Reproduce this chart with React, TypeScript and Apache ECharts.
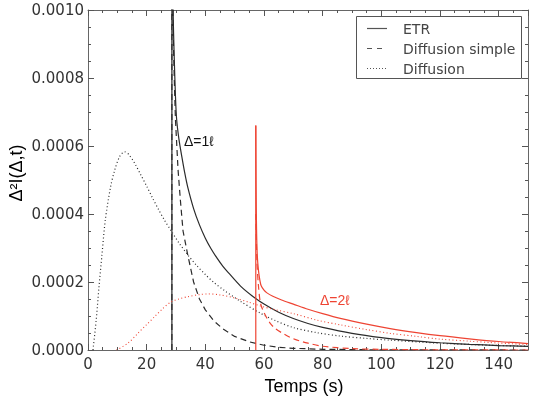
import React, { useEffect, useRef } from 'react';
import * as echarts from 'echarts';

type P = [number, number];

// Δ = 1ℓ (black)
const jump1: P[] = [[28.6, 0], [28.6, 0.0015]];
const etr1: P[] = [
  [28.65, 0.0015], [28.8, 0.0012], [29.0, 0.001], [29.4, 0.00086], [29.8, 0.00075], [30.2, 0.00068],
  [31.0, 0.00062], [32.0, 0.000568], [33.0, 0.00052], [34.0, 0.000479], [36.0, 0.000416], [38.0, 0.000368],
  [40.0, 0.000329], [42.0, 0.000297], [44.0, 0.00027], [46.0, 0.000246], [48.0, 0.000226], [52.0, 0.000188],
  [56.0, 0.000159], [60.0, 0.000135], [65.0, 0.000111], [70.0, 0.0000925], [75.0, 0.000078],
  [80.0, 0.0000664], [90.0, 0.0000487], [100.0, 0.0000364], [110.0, 0.0000278], [120.0, 0.0000214],
  [130.0, 0.0000167], [140.0, 0.0000131], [150.0, 0.0000104],
];
const simple1: P[] = [
  [28.6, 0], [28.6, 0.0015], [28.75, 0.0012], [29.0, 0.00095], [29.4, 0.0008], [29.8, 0.00068], [30.7, 0.00053],
  [31.5, 0.00044], [32.4, 0.00035], [34.0, 0.00028], [36.0, 0.0002], [38.0, 0.00015], [40.0, 0.000118],
  [43.0, 0.000085], [46.0, 0.000062], [50.0, 0.00004], [55.0, 0.000024], [60.0, 0.000014], [65.0, 0.000008],
  [70.0, 0.000005], [80.0, 0.000002], [100.0, 0.0000005], [150.0, 0],
];
const diff1: P[] = [
  [1.7, 0], [2.8, 0.000088], [3.75, 0.000186], [4.8, 0.000284], [5.9, 0.000382], [7.7, 0.00048],
  [9.1, 0.000529], [10.8, 0.000569], [12.5, 0.000583], [14.0, 0.000574], [16.0, 0.000548], [18.0, 0.000515],
  [20.0, 0.000482], [22.0, 0.000447], [24.0, 0.000414], [26.0, 0.000383], [28.4, 0.00035], [31.0, 0.000315],
  [34.0, 0.00028], [37.0, 0.000249], [40.0, 0.000222], [43.0, 0.000198], [46.5, 0.000175], [52.0, 0.000143],
  [58.6, 0.000109], [64.0, 0.000086], [70.0, 0.000066], [78.0, 0.000051], [86.0, 0.000041], [95.0, 0.000034],
  [103.0, 0.000029], [120.0, 0.00002], [137.0, 0.000014], [150.0, 0.000011],
];

// Δ = 2ℓ (red)
const jump2: P[] = [[57.2, 0], [57.2, 0.00066]];
const etr2: P[] = [
  [57.2, 0.00066], [57.3, 0.00048], [57.45, 0.00036], [57.7, 0.00028], [58.1, 0.000235], [58.6, 0.000205],
  [59.0, 0.00019], [60.0, 0.000176], [61.0, 0.000168], [63.0, 0.000158], [66.0, 0.000147], [70.0, 0.000135],
  [75.0, 0.00012], [80.0, 0.000107], [86.0, 0.000093], [95.0, 0.000076], [103.0, 0.000063], [112.0, 0.000051],
  [120.0, 0.000042], [130.0, 0.000033], [140.0, 0.000025], [150.0, 0.000019],
];
const simple2: P[] = [
  [57.2, 0.0004], [57.6, 0.00026], [58.1, 0.00019], [58.8, 0.000138], [60.0, 0.00011], [62.0, 0.00008],
  [64.0, 0.000062], [66.6, 0.000048], [69.0, 0.000037], [72.0, 0.000027], [75.0, 0.00002], [80.0, 0.000011],
  [90.0, 0.000004], [100.0, 0.000002], [120.0, 0.0000005], [150.0, 0],
];
const diff2: P[] = [
  [9.7, 0], [13.6, 0.00002], [17.0, 0.000049], [19.9, 0.000074], [22.7, 0.000098], [25.5, 0.000122],
  [28.4, 0.000142], [31.0, 0.00015], [34.1, 0.000157], [38.0, 0.000163], [41.0, 0.000165], [45.0, 0.000162],
  [50.0, 0.000153], [55.0, 0.00014], [58.6, 0.00013], [64.0, 0.000118], [70.0, 0.000107], [78.0, 0.000088],
  [86.0, 0.000074], [95.0, 0.00006], [103.0, 0.000049], [112.0, 0.00004], [120.0, 0.000032],
  [130.0, 0.000026], [137.0, 0.000022], [150.0, 0.000016],
];

const legendNames = ['ETR', 'Diffusion simple', 'Diffusion'];
const xTitle = 'Temps (s)';
const yTitle = 'Δ²I(Δ,t)';
const label1 = 'Δ=1ℓ';
const label2 = 'Δ=2ℓ';

const BLACK = '#2b2b2b';
const RED = '#ee4433';
const DASH = [6, 4];
const DOT = [1, 2.5];

export default function App() {
  const ref = useRef<HTMLDivElement>(null);
  useEffect(() => {
    const chart = echarts.init(ref.current!, null, { renderer: 'svg' });
    const axisLine = { show: true, onZero: false, lineStyle: { color: '#666', width: 1 } };
    const labelFont = { fontFamily: 'DejaVu Sans', fontSize: 15, color: '#333' };
    const majorTick = { show: true, inside: true, length: 6, lineStyle: { color: '#555' } };
    const minorTickS = { show: true, inside: true, length: 3, lineStyle: { color: '#555' } };
    const xBase = { type: 'value', min: 0, max: 150, splitLine: { show: false } };
    const yBase = { type: 'value', min: 0, max: 0.001, splitLine: { show: false } };
    const line = (data: P[], color: string, type: any, width = 1.2, smooth: any = 0.3) => ({
      type: 'line', data, showSymbol: false, symbol: 'none', smooth, color,
      lineStyle: { color, width, type }, silent: true, z: 3,
    });
    const legendStyles: any[] = [null, [5, 5], [1, 2]];
    const legendItems: any[] = [];
    legendNames.forEach((name, i) => {
      const y = 28.5 + i * 20;
      legendItems.push({
        type: 'line', z: 11, shape: { x1: 367, y1: y, x2: 387, y2: y },
        style: { stroke: '#555', lineWidth: 1.2, lineDash: legendStyles[i] },
      });
      legendItems.push({
        type: 'text', z: 11, x: 403, y,
        style: { text: name, textAlign: 'left', textVerticalAlign: 'middle', font: '14px "DejaVu Sans"', fill: '#444' },
      });
    });
    const option: any = {
      animation: false,
      grid: [
        { left: 88, right: 10, top: 10, bottom: 52 },
        { left: 88, right: 10, top: 10, bottom: 52 },
      ],
      xAxis: [
        { ...xBase, gridIndex: 0, position: 'bottom', interval: 20, axisLine, axisTick: majorTick,
          axisLabel: { ...labelFont, margin: 6, showMaxLabel: false } },
        { ...xBase, gridIndex: 0, position: 'top', interval: 20, axisLine, axisTick: majorTick, axisLabel: { show: false } },
        { ...xBase, gridIndex: 1, position: 'bottom', interval: 5, axisLine: { show: false, onZero: false }, axisTick: minorTickS, axisLabel: { show: false } },
        { ...xBase, gridIndex: 1, position: 'top', interval: 5, axisLine: { show: false, onZero: false }, axisTick: minorTickS, axisLabel: { show: false } },
      ],
      yAxis: [
        { ...yBase, gridIndex: 0, position: 'left', interval: 0.0002, axisLine, axisTick: majorTick,
          axisLabel: { ...labelFont, margin: 4, formatter: (v: number) => v.toFixed(4) } },
        { ...yBase, gridIndex: 0, position: 'right', interval: 0.0002, axisLine, axisTick: majorTick, axisLabel: { show: false } },
        { ...yBase, gridIndex: 1, position: 'left', interval: 0.00005, axisLine: { show: false, onZero: false }, axisTick: minorTickS, axisLabel: { show: false } },
        { ...yBase, gridIndex: 1, position: 'right', interval: 0.00005, axisLine: { show: false, onZero: false }, axisTick: minorTickS, axisLabel: { show: false } },
      ],
      series: [
        line(jump1, BLACK, 'solid', 1.2, false),
        line(etr1, BLACK, 'solid'),
        line(simple1, BLACK, DASH, 1.2, false),
        line(diff1, BLACK, DOT, 1.2, 0.3),
        line(jump2, RED, 'solid', 1.2, false),
        line(etr2, RED, 'solid', 1.2, 0.3),
        line(simple2, RED, DASH, 1.2, 0.3),
        line(diff2, RED, DOT, 1.1, 0.3),
      ],
      graphic: [
        { type: 'rect', shape: { x: 356.5, y: 16.5, width: 165, height: 62 },
          style: { fill: '#fff', stroke: '#555', lineWidth: 1 }, z: 10 },
        ...legendItems,
        { type: 'text', x: 304, y: 386,
          style: { text: xTitle, textAlign: 'center', textVerticalAlign: 'middle',
            font: '18px "Liberation Sans"', fill: '#000' } },
        { type: 'text', x: 16, y: 173, rotation: Math.PI / 2,
          style: { text: yTitle, textAlign: 'center', textVerticalAlign: 'middle',
            font: '18px "Liberation Sans"', fill: '#000' } },
        { type: 'text', x: 184, y: 141,
          style: { text: label1, textAlign: 'left', textVerticalAlign: 'middle',
            font: '14px "Liberation Sans"', fill: '#111' } },
        { type: 'text', x: 320, y: 300,
          style: { text: label2, textAlign: 'left', textVerticalAlign: 'middle',
            font: '14px "Liberation Sans"', fill: RED } },
      ],
    };
    chart.setOption(option);
    return () => chart.dispose();
  }, []);
  return <div ref={ref} style={{ position: 'fixed', left: 0, top: 0, width: 538, height: 402 }} />;
}
